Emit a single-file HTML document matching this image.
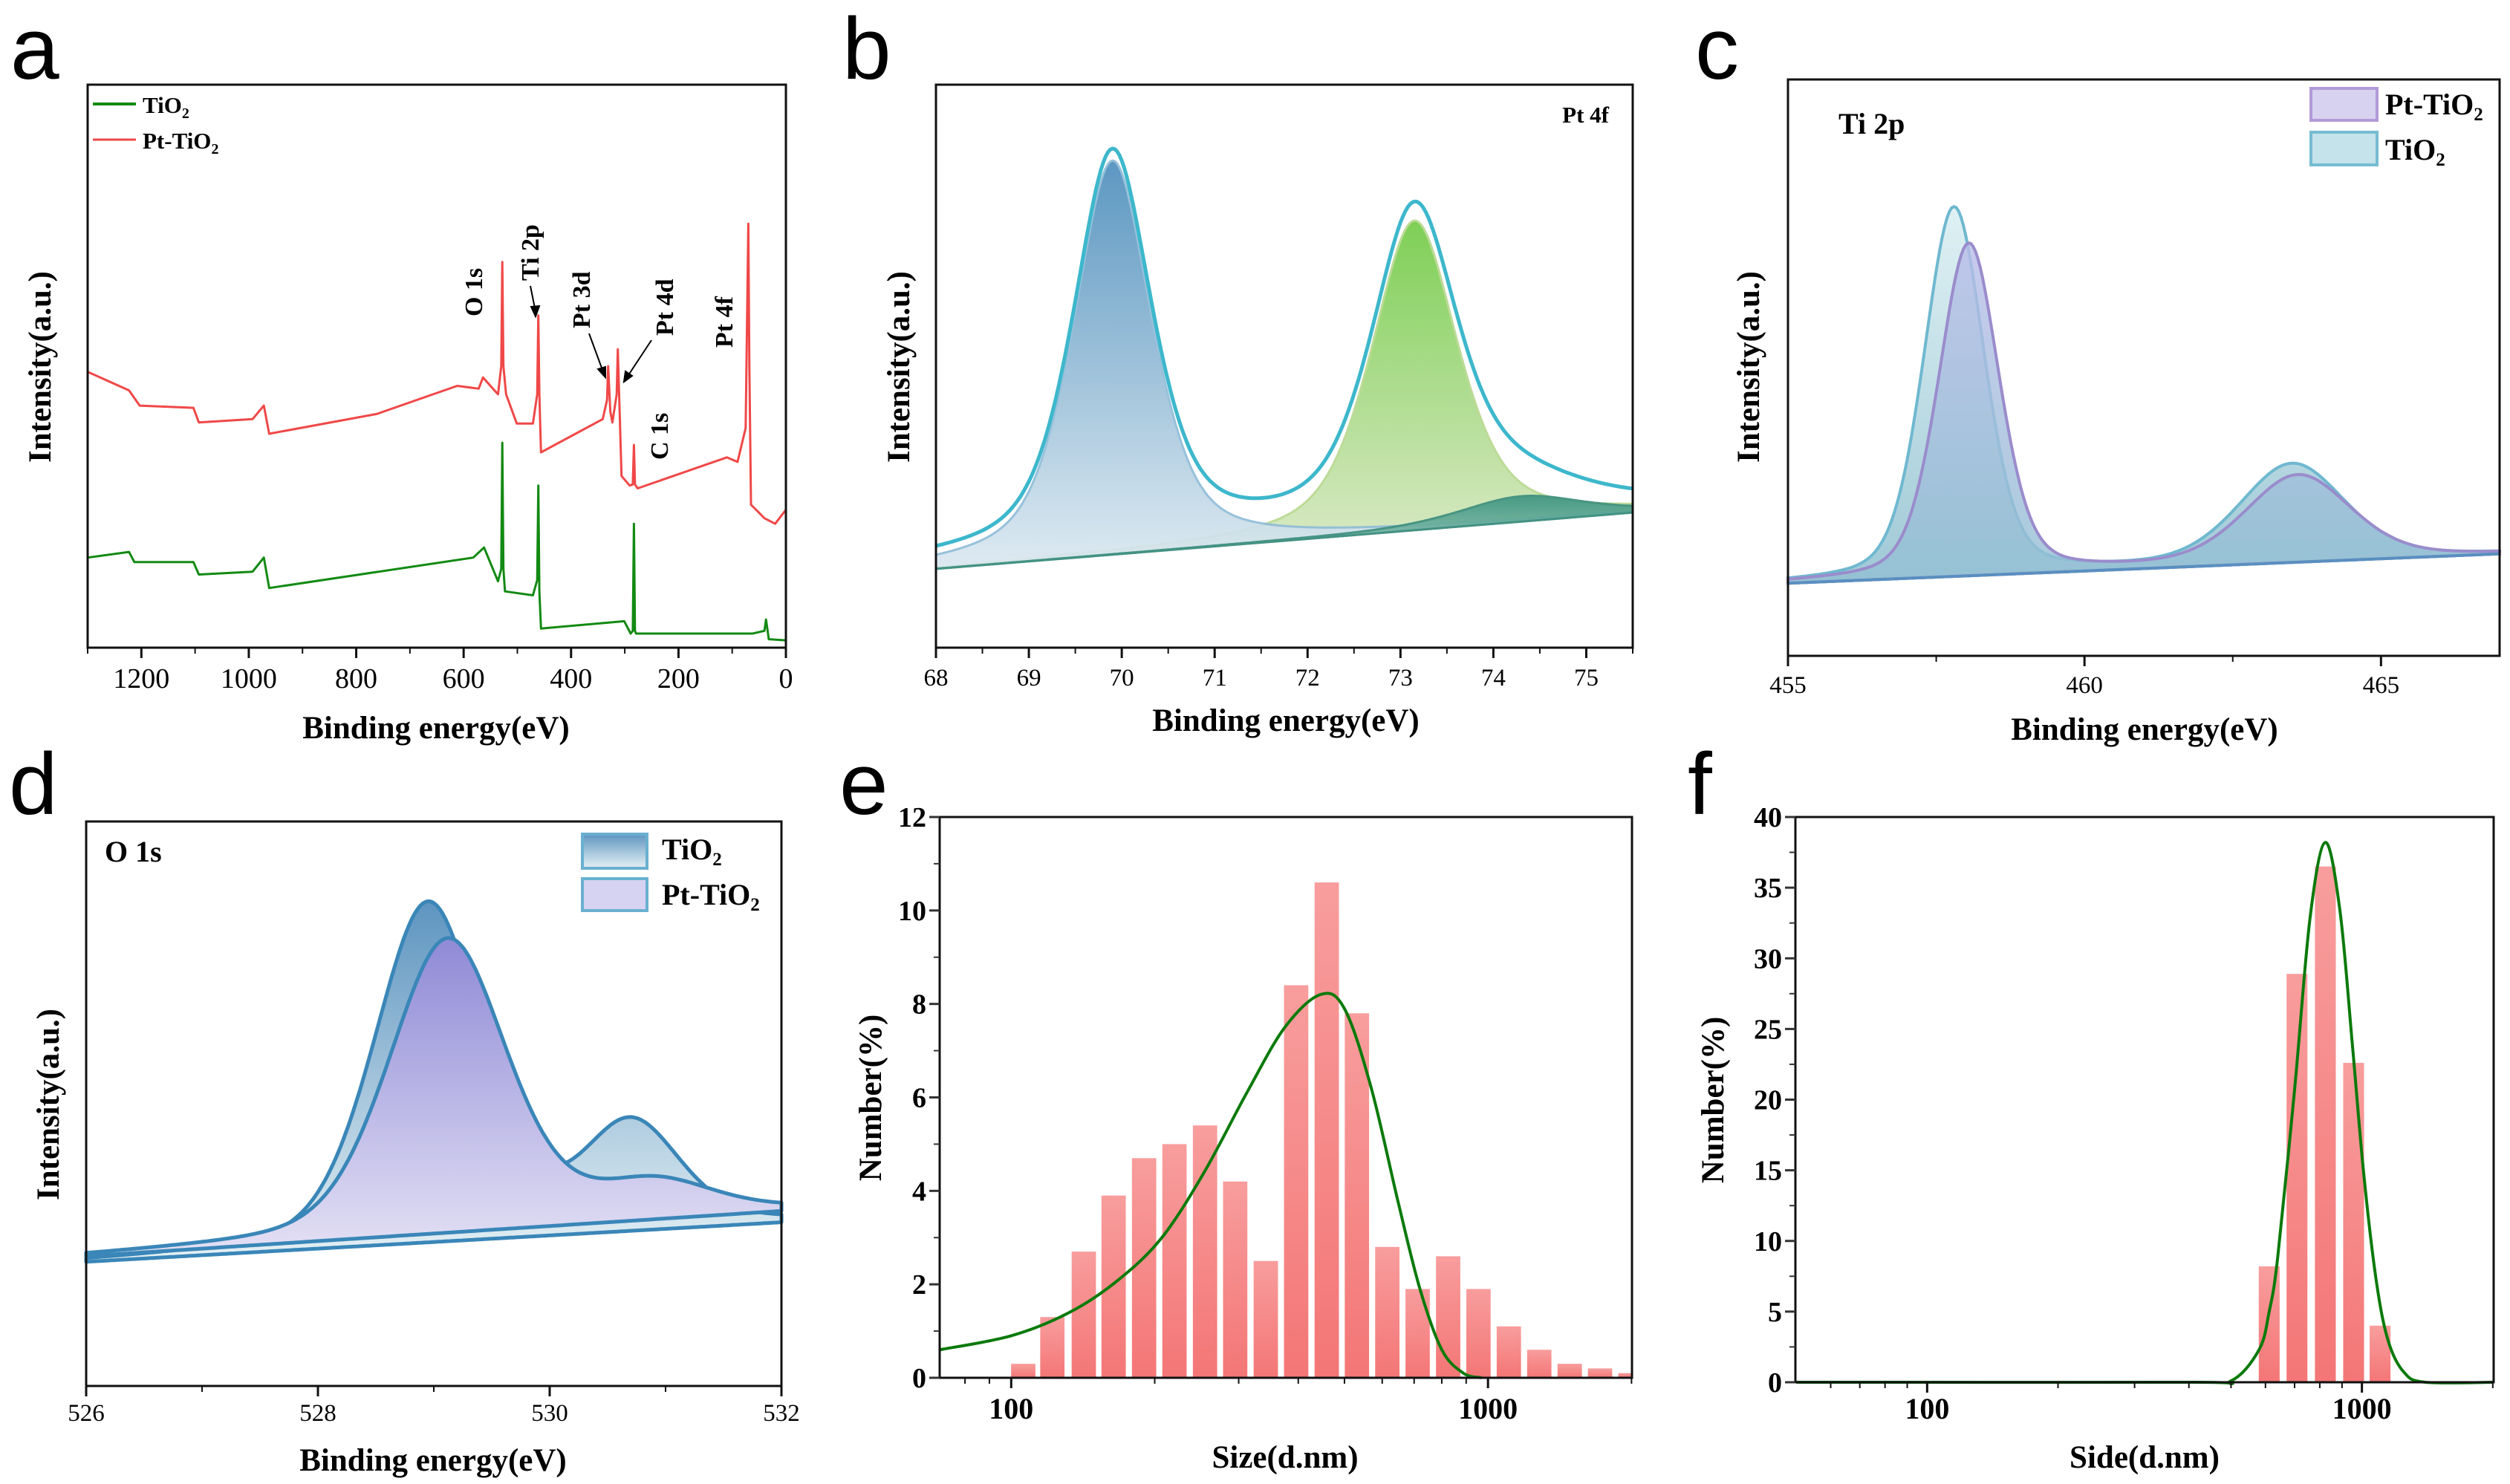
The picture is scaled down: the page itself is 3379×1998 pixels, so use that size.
<!DOCTYPE html>
<html><head><meta charset="utf-8"><style>
html,body{margin:0;padding:0;background:#fff;}
svg{display:block;}
text{font-family:"Liberation Serif",serif;}
.let{font-family:"Liberation Sans",sans-serif;font-size:118px;}
.tl{font-size:38px;}
.tt{font-size:43px;font-weight:bold;}
.lb{font-size:34px;font-weight:bold;}
</style></head><body>
<svg id="fig" xmlns="http://www.w3.org/2000/svg" width="3379" height="1998" viewBox="0 0 3379 1998">
<defs>
<linearGradient id="gB1" x1="0" y1="0" x2="0" y2="1"><stop offset="0" stop-color="#4f8fbd"/><stop offset="1" stop-color="#dce9f1"/></linearGradient>
<linearGradient id="gB2" x1="0" y1="0" x2="0" y2="1"><stop offset="0" stop-color="#74cc48"/><stop offset="1" stop-color="#dde9c8"/></linearGradient>
<linearGradient id="gB3" x1="0" y1="0" x2="0" y2="1"><stop offset="0" stop-color="#3e9580"/><stop offset="1" stop-color="#a9d2c6"/></linearGradient>
<linearGradient id="gCT" x1="0" y1="0" x2="0" y2="1"><stop offset="0" stop-color="#dff1f4"/><stop offset="1" stop-color="#9fc9d6"/></linearGradient>
<linearGradient id="gCP" x1="0" y1="0" x2="0" y2="1"><stop offset="0" stop-color="#b9bde8" stop-opacity="0.8"/><stop offset="1" stop-color="#93bfd3" stop-opacity="0.8"/></linearGradient>
<linearGradient id="gDT" x1="0" y1="0" x2="0" y2="1"><stop offset="0" stop-color="#5e95c0"/><stop offset="1" stop-color="#e6f1f5"/></linearGradient>
<linearGradient id="gDP" x1="0" y1="0" x2="0" y2="1"><stop offset="0" stop-color="#8f8ad6"/><stop offset="1" stop-color="#e4e1f5"/></linearGradient>
<linearGradient id="gBar" x1="0" y1="0" x2="0" y2="1"><stop offset="0" stop-color="#f89d9d"/><stop offset="1" stop-color="#f47676"/></linearGradient>
</defs>

<text class="let" x="14" y="106">a</text>
<text class="let" x="1134" y="106">b</text>
<text class="let" x="2282" y="106">c</text>
<text class="let" x="12" y="1096">d</text>
<text class="let" x="1130" y="1096">e</text>
<text class="let" x="2272" y="1096">f</text>

<text class="tt" x="587" y="994" text-anchor="middle">Binding energy(eV)</text>
<text class="tt" transform="translate(68,494) rotate(-90)" text-anchor="middle">Intensity(a.u.)</text>
<text class="tt" x="1731" y="984" text-anchor="middle">Binding energy(eV)</text>
<text class="tt" transform="translate(1224,494) rotate(-90)" text-anchor="middle">Intensity(a.u.)</text>
<text class="tt" x="2887" y="996" text-anchor="middle">Binding energy(eV)</text>
<text class="tt" transform="translate(2368,494) rotate(-90)" text-anchor="middle">Intensity(a.u.)</text>
<text class="tt" x="583" y="1980" text-anchor="middle">Binding energy(eV)</text>
<text class="tt" transform="translate(79,1487) rotate(-90)" text-anchor="middle">Intensity(a.u.)</text>
<text class="tt" x="1730" y="1976" text-anchor="middle">Size(d.nm)</text>
<text class="tt" transform="translate(1186,1478) rotate(-90)" text-anchor="middle">Number(%)</text>
<text class="tt" x="2887" y="1976" text-anchor="middle">Side(d.nm)</text>
<text class="tt" transform="translate(2320,1481) rotate(-90)" text-anchor="middle">Number(%)</text>

<g>
<line x1="125" y1="140" x2="183" y2="140" stroke="#138a13" stroke-width="4"/>
<text x="192" y="152" font-size="31" font-weight="bold">TiO<tspan font-size="20" dy="7">2</tspan></text>
<line x1="125" y1="188" x2="183" y2="188" stroke="#f04848" stroke-width="3"/>
<text x="192" y="200" font-size="31" font-weight="bold">Pt-TiO<tspan font-size="20" dy="7">2</tspan></text>
</g>
<text class="lb" transform="translate(649,426) rotate(-90)">O 1s</text>
<text class="lb" transform="translate(725,378) rotate(-90)">Ti 2p</text>
<text class="lb" transform="translate(794,442) rotate(-90)">Pt 3d</text>
<text class="lb" transform="translate(906,452) rotate(-90)">Pt 4d</text>
<text class="lb" transform="translate(899,619) rotate(-90)">C 1s</text>
<text class="lb" transform="translate(986,468) rotate(-90)">Pt 4f</text>
<g stroke="#000" stroke-width="2" fill="#000">
<line x1="714" y1="385" x2="720" y2="415"/><path d="M715,413 L721,426 L726,412 Z"/>
<line x1="793" y1="449" x2="811" y2="498"/><path d="M805,497 L815,508 L815,494 Z"/>
<line x1="877" y1="458" x2="846" y2="505"/><path d="M842,500 L840,514 L851,506 Z"/>
</g>

<text x="2166" y="165" font-size="31" font-weight="bold" text-anchor="end">Pt 4f</text>
<text x="2475" y="180" font-size="40" font-weight="bold">Ti 2p</text>
<rect x="3111" y="119" width="89" height="43" fill="#d6d2f0" stroke="#b39ad8" stroke-width="4"/>
<text x="3211" y="154" font-size="40" font-weight="bold">Pt-TiO<tspan font-size="25" dy="8">2</tspan></text>
<rect x="3111" y="178" width="89" height="44" fill="#c5e3ea" stroke="#76bcd2" stroke-width="4"/>
<text x="3211" y="215" font-size="40" font-weight="bold">TiO<tspan font-size="25" dy="8">2</tspan></text>
<text x="141" y="1160" font-size="40" font-weight="bold">O 1s</text>
<rect x="784" y="1123" width="87" height="46" fill="url(#gDT)" stroke="#6ab0d0" stroke-width="4"/>
<text x="891" y="1157" font-size="40" font-weight="bold">TiO<tspan font-size="25" dy="8">2</tspan></text>
<rect x="784" y="1183" width="87" height="43" fill="#d6d2f2" stroke="#6ab0d0" stroke-width="4"/>
<text x="891" y="1218" font-size="40" font-weight="bold">Pt-TiO<tspan font-size="25" dy="8">2</tspan></text>
</svg>
<script>
const aRedE=[1300,1223,1203,1103,1093,993,972,962,762,612,572,564,536,530,528,526,521,501,471,463,461,459,456,341,333,331,327,323,315,313,309,306,291,285,283,281,276,110,90,75,72,70,68,65,40,20,0];
const aRedI=[49,45.7,43,42.6,40,40.6,43,38,41.5,46.5,46,48,45,50,68.5,50,45,39.8,39.8,45,59,45,34.7,40.6,44,50,42,40,45,53,40,30.5,28.8,29,36,29,28.3,33.8,33,39,60,75.3,50,25.4,23,22,24.5];
const aGreenE=[1300,1223,1213,1103,1093,993,972,962,582,562,536,530,528,526,523,471,463,461,459,456,301,289,285,283,281,279,62,40,37,34,32,0];
const aGreenI=[16,17,15.2,15.2,13,13.5,16,10.6,16,17.8,11.8,14,36.4,14,10,9.3,12,28.8,10,3.4,4.7,2.5,3,22,3,2.5,2.5,3,5,3,1.5,1.3];
const aTicks=[1200,1000,800,600,400,200,0];
const bCenters=[69.9,73.15,74.3];
const bAmps=[70,55,4.5];
const bHwhm=[0.5,0.55,0.8];
const bBaseline=[14,24];
const bTicks=[68,69,70,71,72,73,74,75];
const cBaseline=[12.6,17.7];
const cTiCenters=[457.8,463.5];
const cTiAmps=[64,17];
const cPtCenters=[458.05,463.6];
const cPtAmps=[57.6,15];
const cHwhm=[0.6,1.05];
const cTicks=[455,460,465];
const dTiBaseline=[22,29];
const dTiCenters=[528.95,530.7];
const dTiAmps=[60,18.5];
const dTiHwhm=[0.55,0.5];
const dPtBaseline=[23,31];
const dPtCenters=[529.12,530.9];
const dPtAmps=[52,6];
const dPtHwhm=[0.6,0.6];
const dTicks=[526,528,530,532];
const eSizes=[106,122,142,164,190,220,255,295,342,396,459,531,615,712,825,955,1106,1281,1484,1718,1990];
const eCounts=[0.3,1.3,2.7,3.9,4.7,5.0,5.4,4.2,2.5,8.4,10.6,7.8,2.8,1.9,2.6,1.9,1.1,0.6,0.3,0.2,0.1];
const eFitSizes=[70.8,100,132.6,168,207,254,312,375,445,500,569,650,720,800,888,970];
const eFitVals=[0.6,0.9,1.4,2.1,3.0,4.4,6.1,7.5,8.2,7.9,6.2,3.7,1.9,0.6,0.1,0];
const eYTicks=[0,2,4,6,8,10,12];
const fSizes=[612,709,824,957,1101];
const fCounts=[8.2,28.9,36.5,22.6,4.0];
const fFitSizes=[50,400,500,580,612,640,700,760,824,890,950,1010,1080,1150,1250,1400,2000];
const fFitVals=[0,0,0.1,2.3,5,8.8,20.7,32.9,38.2,33.4,24,14.7,7.1,2.9,0.7,0,0];
const fYTicks=[0,5,10,15,20,25,30,35,40];
const logTicks=[100,1000];

const NS='http://www.w3.org/2000/svg';
const svg=document.getElementById('fig');
function mk(tag,attrs,parent){const e=document.createElementNS(NS,tag);for(const k in attrs)e.setAttribute(k,attrs[k]);(parent||svg).appendChild(e);return e;}
function pv(x,c,a,g,eta){const t=((x-c)/g)**2;return a*(eta/(1+t)+(1-eta)*Math.exp(-Math.LN2*t));}
function lin(d0,d1,r0,r1){return v=>r0+(v-d0)/(d1-d0)*(r1-r0);}
function logs(d0,d1,r0,r1){return v=>r0+(Math.log10(v)-d0)/(d1-d0)*(r1-r0);}
function smooth(pts){let d='M'+pts[0][0].toFixed(1)+','+pts[0][1].toFixed(1);
 for(let i=0;i<pts.length-1;i++){const p0=pts[i-1]||pts[i],p1=pts[i],p2=pts[i+1],p3=pts[i+2]||p2;
  const c1=[p1[0]+(p2[0]-p0[0])/6,p1[1]+(p2[1]-p0[1])/6],c2=[p2[0]-(p3[0]-p1[0])/6,p2[1]-(p3[1]-p1[1])/6];
  d+='C'+c1[0].toFixed(1)+','+c1[1].toFixed(1)+' '+c2[0].toFixed(1)+','+c2[1].toFixed(1)+' '+p2[0].toFixed(1)+','+p2[1].toFixed(1);}
 return d;}
function poly(pts){return 'M'+pts.map(p=>p[0].toFixed(1)+','+p[1].toFixed(1)).join('L');}
function frame(name,L,T,R,B,lw){
 const r=mk('rect',{x:L,y:T,width:R-L,height:B-T,fill:'none',stroke:'#111','stroke-width':lw||3});
 
 
}
function xTicks(name,sx,majors,minors,B,fs,bold,lab){
 const g=mk('g',{stroke:'#111','stroke-width':3});
 
 
 majors.forEach(v=>{const x=sx(v);
  const t=mk('line',{x1:x,y1:B,x2:x,y2:B+14},g);
  
  
  const tx=mk('text',{x:x,y:lab,'text-anchor':'middle','font-size':fs,'font-weight':bold?'bold':'normal',stroke:'none',fill:'#000'});
  tx.textContent=String(v);
  
  
 });
 minors.forEach(v=>{const x=sx(v);
  const t=mk('line',{x1:x,y1:B,x2:x,y2:B+8,'stroke-width':2},g);
  
  
 });
}
function yTicks(name,sy,majors,minors,L,fs){
 const g=mk('g',{stroke:'#333','stroke-width':3});
 
 
 majors.forEach(v=>{const y=sy(v);
  const t=mk('line',{x1:L-14,y1:y,x2:L,y2:y},g);
  
  
  const tx=mk('text',{x:L-18,y:y+13,'text-anchor':'end','font-size':fs,'font-weight':'bold',stroke:'none',fill:'#000'});
  tx.textContent=String(v);
  
  
 });
 minors.forEach(v=>{const y=sy(v);
  const t=mk('line',{x1:L-8,y1:y,x2:L,y2:y,'stroke-width':2},g);
  
  
 });
}
function range(a,b,n){const r=[];for(let i=0;i<=n;i++)r.push(a+(b-a)*i/n);return r;}

{const L=118,R=1058,T=114,B=872;
 const sx=lin(1300,0,L,R),sy=lin(0,100,B,T);
 const g=mk('path',{d:poly(aGreenE.map((e,i)=>[sx(e),sy(aGreenI[i])])),fill:'none',stroke:'#138a13','stroke-width':3,'stroke-linejoin':'round'});
 
 
 const r=mk('path',{d:poly(aRedE.map((e,i)=>[sx(e),sy(aRedI[i])])),fill:'none',stroke:'#f04848','stroke-width':3,'stroke-linejoin':'round'});
 
 
 frame('a',L,T,R,B,3);
 xTicks('a',sx,aTicks,[1300,1100,900,700,500,300,100],B,38,false,926);
}

{const L=1260,R=2198,T=114,B=872;
 const sx=lin(68,75.5,L,R),sy=lin(0,100,B,T);
 const xs=range(68,75.5,300);
 const eta=0.55;
 const base=x=>bBaseline[0]+(x-68)/7.5*(bBaseline[1]-bBaseline[0]);
 const fills=['url(#gB1)','url(#gB2)','url(#gB3)'],strokes=['#8fbcd8','#b8d890','#3d8f7d'];
 const order=[1,0,2];
 order.forEach(k=>{
  const top=xs.map(x=>[sx(x),sy(base(x)+pv(x,bCenters[k],bAmps[k],bHwhm[k],eta))]);
  const bot=xs.slice().reverse().map(x=>[sx(x),sy(base(x))]);
  const p=mk('path',{d:poly(top.concat(bot))+'Z',fill:fills[k],stroke:strokes[k],'stroke-width':3,opacity:0.92});
  
  
 });
 const env=xs.map(x=>[sx(x),sy(base(x)+bCenters.reduce((s,c,i)=>s+pv(x,c,bAmps[i],bHwhm[i],eta),0)+1.2)]);
 const e=mk('path',{d:poly(env),fill:'none',stroke:'#3db7cc','stroke-width':5});
 
 
 frame('b',L,T,R,B,3);
 xTicks('b',sx,bTicks,[68.5,69.5,70.5,71.5,72.5,73.5,74.5,75.5],B,33,false,923);
}

{const L=2407,R=3365,T=107,B=883;
 const sx=lin(455,467,L,R),sy=lin(0,100,B,T);
 const xs=range(455,467,300);
 const base=x=>cBaseline[0]+(x-455)/12*(cBaseline[1]-cBaseline[0]);
 function series(cs,as,fill,stroke,name){
  const top=xs.map(x=>[sx(x),sy(base(x)+cs.reduce((s,c,i)=>s+pv(x,c,as[i],cHwhm[i],0.3),0))]);
  const bot=xs.slice().reverse().map(x=>[sx(x),sy(base(x))]);
  const p=mk('path',{d:poly(top.concat(bot))+'Z',fill:fill,stroke:stroke,'stroke-width':4});
  
  
 }
 series(cTiCenters,cTiAmps,'url(#gCT)','#6fb8d0','ti2p-tio2-area');
 series(cPtCenters,cPtAmps,'url(#gCP)','#9a8ccc','ti2p-pt-tio2-area');
 const bl=mk('line',{x1:sx(455),y1:sy(cBaseline[0]),x2:sx(467),y2:sy(cBaseline[1]),stroke:'#5a8fc0','stroke-width':4});
 
 
 frame('c',L,T,R,B,3);
 xTicks('c',sx,cTicks,[457.5,462.5],B,33,false,933);
}

{const L=116,R=1052,T=1106,B=1866;
 const sx=lin(526,532,L,R),sy=lin(0,100,B,T);
 const xs=range(526,532,300);
 function series(bl,cs,as,ws,fill,name){
  const base=x=>bl[0]+(x-526)/6*(bl[1]-bl[0]);
  const top=xs.map(x=>[sx(x),sy(base(x)+cs.reduce((s,c,i)=>s+pv(x,c,as[i],ws[i],0.3),0))]);
  const bot=xs.slice().reverse().map(x=>[sx(x),sy(base(x))]);
  const p=mk('path',{d:poly(top.concat(bot))+'Z',fill:fill,stroke:'#3a86b8','stroke-width':5,'stroke-linejoin':'round'});
  
  
 }
 series(dTiBaseline,dTiCenters,dTiAmps,dTiHwhm,'url(#gDT)','o1s-tio2-area');
 series(dPtBaseline,dPtCenters,dPtAmps,dPtHwhm,'url(#gDP)','o1s-pt-tio2-area');
 frame('d',L,T,R,B,3);
 xTicks('d',sx,dTicks,[527,529,531],B,33,false,1913);
}

{const L=1265,R=2197,T=1100,B=1855;
 const sx=logs(1.85,3.302,L,R),sy=lin(0,12,B,T);
 const hw=0.0255,pxPerLog=(R-L)/(3.302-1.85);
 eSizes.forEach((s,i)=>{
  const x0=Math.max(L,sx(s)-hw*pxPerLog),x1=Math.min(R,sx(s)+hw*pxPerLog);
  const b=mk('rect',{x:x0,y:sy(eCounts[i]),width:x1-x0,height:B-sy(eCounts[i]),fill:'url(#gBar)'});
  
  
 });
 const c=mk('path',{d:smooth(eFitSizes.map((s,i)=>[sx(s),sy(eFitVals[i])])),fill:'none',stroke:'#0b7a0b','stroke-width':4});
 
 
 frame('e',L,T,R,B,3);
 xTicks('e',sx,logTicks,[80,90,200,300,400,500,600,700,800,900,2000].filter(v=>Math.log10(v)<=3.302),B,40,true,1910);
 yTicks('e',sy,eYTicks,[1,3,5,7,9,11],L,38);
}

{const L=2417,R=3357,T=1100,B=1861;
 const sx=logs(1.697,3.303,L,R),sy=lin(0,40,B,T);
 const hw=0.024,pxPerLog=(R-L)/(3.303-1.697);
 fSizes.forEach((s,i)=>{
  const x0=sx(s)-hw*pxPerLog,x1=sx(s)+hw*pxPerLog;
  const b=mk('rect',{x:x0,y:sy(fCounts[i]),width:x1-x0,height:B-sy(fCounts[i]),fill:'url(#gBar)'});
  
  
 });
 const c=mk('path',{d:smooth(fFitSizes.map((s,i)=>[sx(s),sy(fFitVals[i])])),fill:'none',stroke:'#0b7a0b','stroke-width':4});
 
 
 frame('f',L,T,R,B,3);
 xTicks('f',sx,logTicks,[60,70,80,90,200,300,400,500,600,700,800,900,2000],B,40,true,1910);
 yTicks('f',sy,fYTicks,[2.5,7.5,12.5,17.5,22.5,27.5,32.5,37.5],L,38);
}
</script>
</body></html>
